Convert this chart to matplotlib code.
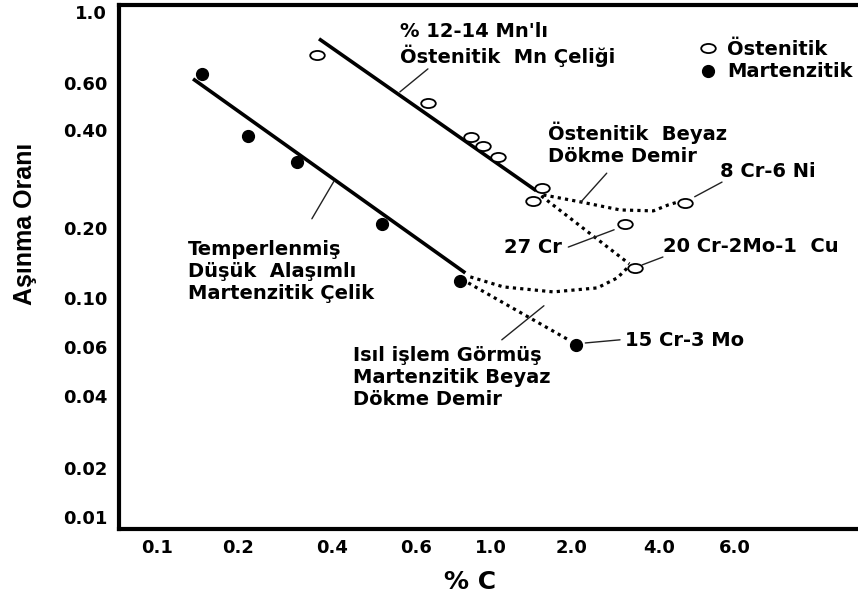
import numpy as np
import matplotlib
matplotlib.use('Agg')
import matplotlib.pyplot as plt
from matplotlib.path import Path
from matplotlib.transforms import Affine2D

plt.rcParams['font.family'] = ['DejaVu Sans']
plt.rcParams['font.weight'] = 'bold'

# axis ticks as printed on the original chart (spacing is hand drawn, not true log)
x_ticks = [0.1, 0.2, 0.4, 0.6, 1.0, 2.0, 4.0, 6.0]
x_tick_pos = [157, 238, 332, 416, 491, 571, 659, 734]
y_ticks = [0.01, 0.02, 0.04, 0.06, 0.10, 0.20, 0.40, 0.60, 1.0]
y_tick_pos = [-517, -468, -396, -347, -298, -228, -130, -83, -12]
x_labels = ['0.1', '0.2', '0.4', '0.6', '1.0', '2.0', '4.0', '6.0']
y_labels = ['0.01', '0.02', '0.04', '0.06', '0.10', '0.20', '0.40', '0.60', '1.0']

# measured points (%C, wear ratio)
mart_c = [0.147, 0.215, 0.309, 0.509, 0.810, 2.08]
mart_w = [0.640, 0.384, 0.319, 0.206, 0.118, 0.0613]
ost_c = [0.358, 0.651, 0.873, 0.947, 1.062, 1.555, 1.439, 3.06, 3.31, 4.60]
ost_w = [0.734, 0.505, 0.381, 0.357, 0.330, 0.265, 0.242, 0.206, 0.1346, 0.2385]

# trend lines
mart_fit_c = [0.136, 0.838]
mart_fit_w = [0.617, 0.128]
ost_fit_c = [0.363, 1.476]
ost_fit_w = [0.823, 0.260]

# dotted branches
beyaz_c = [1.569, 2.147, 2.94, 3.815, 4.20, 4.43]
beyaz_w = [0.2525, 0.2403, 0.227, 0.2255, 0.2353, 0.2403]
cr27_c = [1.542, 3.158]
cr27_w = [0.2507, 0.140]
mbeyaz_c = [0.867, 1.110, 1.711, 2.455, 2.873, 3.11]
mbeyaz_w = [0.1231, 0.1115, 0.1061, 0.1104, 0.1219, 0.1346]
mo_c = [0.855, 1.983]
mo_w = [0.116, 0.0639]


def piecewise_log(vals, pos):
    lv = np.log10(vals)
    pos = np.asarray(pos, float)
    s0 = (pos[1] - pos[0]) / (lv[1] - lv[0])
    s1 = (pos[-1] - pos[-2]) / (lv[-1] - lv[-2])

    def fwd(v):
        v = np.log10(np.clip(np.asarray(v, float), 1e-12, None))
        out = np.interp(v, lv, pos)
        out = np.where(v < lv[0], pos[0] + (v - lv[0]) * s0, out)
        out = np.where(v > lv[-1], pos[-1] + (v - lv[-1]) * s1, out)
        return out

    def inv(p):
        p = np.asarray(p, float)
        out = np.interp(p, pos, lv)
        out = np.where(p < pos[0], lv[0] + (p - pos[0]) / s0, out)
        out = np.where(p > pos[-1], lv[-1] + (p - pos[-1]) / s1, out)
        return 10 ** out

    return fwd, inv


ellipse = Path.unit_circle().transformed(Affine2D().scale(1.6, 1.0))

fig = plt.figure(figsize=(8.58, 5.98), dpi=100)
ax = fig.add_axes([0.1387, 0.1154, 0.8613, 0.8763])

ax.set_xscale('function', functions=piecewise_log(x_ticks, x_tick_pos))
ax.set_yscale('function', functions=piecewise_log(y_ticks, y_tick_pos))

ax.plot(mart_fit_c, mart_fit_w, color='k', lw=2.6, solid_capstyle='butt')
ax.plot(ost_fit_c, ost_fit_w, color='k', lw=2.6, solid_capstyle='butt')

dots = dict(color='k', lw=2.3, linestyle=(0, (1, 1.3)))
ax.plot(beyaz_c, beyaz_w, **dots)
ax.plot(cr27_c, cr27_w, **dots)
ax.plot(mbeyaz_c, mbeyaz_w, **dots)
ax.plot(mo_c, mo_w, **dots)

h_ost, = ax.plot(ost_c, ost_w, linestyle='none', marker=ellipse, ms=10.5,
                 mfc='white', mec='k', mew=1.3, zorder=5)
h_mart, = ax.plot(mart_c, mart_w, linestyle='none', marker='o', ms=8.5,
                  mfc='k', mec='k', zorder=5)

ax.set_xlim(0.0722, 11.7)
ax.set_ylim(0.00844, 1.05)
ax.set_xticks(x_ticks)
ax.set_xticklabels(x_labels)
ax.set_yticks(y_ticks)
ax.set_yticklabels(y_labels)
ax.minorticks_off()
ax.tick_params(length=0, labelsize=13)
ax.tick_params(axis='y', pad=8.5)
ax.tick_params(axis='x', pad=7)

for side in ['left', 'top', 'bottom']:
    ax.spines[side].set_linewidth(3)
ax.spines['right'].set_visible(False)

ax.set_ylabel('Aşınma Oranı', fontsize=18, fontweight='bold', va='center',
              family=['Liberation Sans', 'DejaVu Sans'])
ax.yaxis.set_label_coords(-0.127, 0.582)
ax.set_xlabel('% C', fontsize=18, fontweight='bold', va='center')
ax.xaxis.set_label_coords(0.475, -0.101)

ax.legend([h_ost, h_mart], ['Östenitik', 'Martenzitik'], loc='center left',
          bbox_to_anchor=(0.7835, 0.894), frameon=False, fontsize=14,
          handlelength=1.0, handletextpad=0.5, borderpad=0, borderaxespad=0,
          labelspacing=0.2)

fs = 14
ax.text(0.380, 0.924, "% 12-14 Mn'lı\nÖstenitik  Mn Çeliği", transform=ax.transAxes,
        fontsize=fs, ha='left', va='center')
ax.text(0.5805, 0.7357, 'Östenitik  Beyaz\nDökme Demir', transform=ax.transAxes,
        fontsize=fs, ha='left', va='center')
ax.text(0.8133, 0.6813, '8 Cr-6 Ni', transform=ax.transAxes,
        fontsize=fs, ha='left', va='center')
ax.text(0.5210, 0.5363, '27 Cr', transform=ax.transAxes,
        fontsize=fs, ha='left', va='center')
ax.text(0.7361, 0.5382, '20 Cr-2Mo-1  Cu', transform=ax.transAxes,
        fontsize=fs, ha='left', va='center')
ax.text(0.6847, 0.3588, '15 Cr-3 Mo', transform=ax.transAxes,
        fontsize=fs, ha='left', va='center')
ax.text(0.3166, 0.2882, 'Isıl işlem Görmüş\nMartenzitik Beyaz\nDökme Demir',
        transform=ax.transAxes, fontsize=fs, ha='left', va='center')
ax.text(0.0934, 0.4905, 'Temperlenmiş\nDüşük  Alaşımlı\nMartenzitik Çelik',
        transform=ax.transAxes, fontsize=fs, ha='left', va='center')

# leader lines (axes fraction)
leaders = [
    ((0.380, 0.834), (0.418, 0.878)),
    ((0.291, 0.664), (0.261, 0.592)),
    ((0.660, 0.679), (0.625, 0.624)),
    ((0.608, 0.538), (0.670, 0.571)),
    ((0.708, 0.504), (0.736, 0.519)),
    ((0.779, 0.634), (0.816, 0.662)),
    ((0.518, 0.361), (0.575, 0.426)),
    ((0.631, 0.355), (0.678, 0.361)),
]
for a, b in leaders:
    ax.annotate('', xy=a, xytext=b, xycoords='axes fraction', textcoords='axes fraction',
                arrowprops=dict(arrowstyle='-', lw=1.0, color='#222222',
                                shrinkA=0, shrinkB=0))

fig.savefig('out.png', dpi=100)
